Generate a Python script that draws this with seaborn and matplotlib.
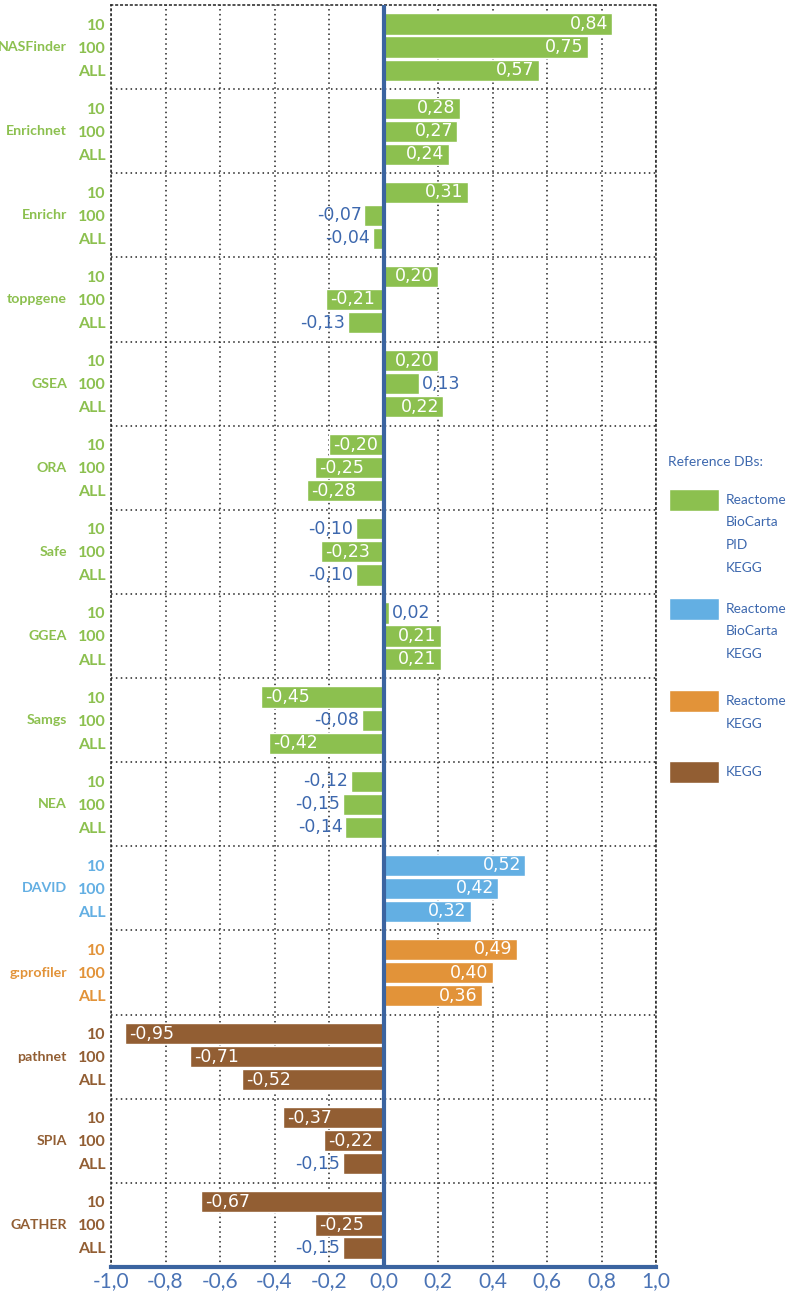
import numpy as np
import pandas as pd
import matplotlib.pyplot as plt
import matplotlib.transforms as mtransforms
from matplotlib.patches import Rectangle
import seaborn as sns

# dados
ferramentas = ["NASFinder", "Enrichnet", "Enrichr", "toppgene", "GSEA", "ORA", "Safe",
               "GGEA", "Samgs", "NEA", "DAVID", "g:profiler", "pathnet", "SPIA", "GATHER"]
subconjuntos = ["10", "100", "ALL"]
valores = [
    [0.84, 0.75, 0.57],
    [0.28, 0.27, 0.24],
    [0.31, -0.07, -0.04],
    [0.20, -0.21, -0.13],
    [0.20, 0.13, 0.22],
    [-0.20, -0.25, -0.28],
    [-0.10, -0.23, -0.10],
    [0.02, 0.21, 0.21],
    [-0.45, -0.08, -0.42],
    [-0.12, -0.15, -0.14],
    [0.52, 0.42, 0.32],
    [0.49, 0.40, 0.36],
    [-0.95, -0.71, -0.52],
    [-0.37, -0.22, -0.15],
    [-0.67, -0.25, -0.15],
]
grupo_db = ["A"] * 10 + ["B"] + ["C"] + ["D"] * 3
legenda_db = {
    "A": ["Reactome", "BioCarta", "PID", "KEGG"],
    "B": ["Reactome", "BioCarta", "KEGG"],
    "C": ["Reactome", "KEGG"],
    "D": ["KEGG"],
}
cores = {"A": "#8CC04F", "B": "#63AFE3", "C": "#E29339", "D": "#925E33"}
azul_txt = "#3D68AE"
azul_eixo = "#3B64A0"

# montagem do dataframe
passo = 3.65  # distancia entre grupos (em barras)
linhas = []
for g, nome in enumerate(ferramentas):
    for k, sub in enumerate(subconjuntos):
        linhas.append({"ferramenta": nome, "sub": sub, "valor": valores[g][k],
                       "db": grupo_db[g], "pos": g * passo + k})
df = pd.DataFrame(linhas)

sns.set_style("white")
plt.rcParams["font.family"] = ["DejaVu Sans"]
estreita = ["Lato", "DejaVu Sans"]

fig = plt.figure(figsize=(7.87, 13.03), dpi=100)
W, H = 787, 1303
ax = fig.add_axes([111 / W, 1 - 1267 / H, 545 / W, 1262 / H])

sns.barplot(data=df, x="valor", y="pos", hue="db", palette=cores, orient="y",
            native_scale=True, dodge=False, width=0.92, errorbar=None, saturation=1,
            edgecolor="white", linewidth=1.0, legend=False, ax=ax, zorder=3)

ax.set_xlim(-1.0, 1.0)
topo = 1 - passo / 2
base = (len(ferramentas) - 1) * passo + 1 + passo / 2
ax.set_ylim(base, topo)

# grade pontilhada
pont = (0, (1, 2.2))
ticks = np.round(np.arange(-1.0, 1.01, 0.2), 1) + 0.0
ax.set_xticks(ticks)
ax.set_xticklabels([f"{t + 0.0:.1f}".replace(".", ",") for t in ticks],
                   color="#4A73B5", fontsize=15, family=estreita)
for t in ticks:
    ax.axvline(t, color="#222222", lw=1.1, ls=pont, zorder=1)
for g in range(1, len(ferramentas)):
    ax.axhline(g * passo + 1 - passo / 2, color="#222222", lw=1.1, ls=pont, zorder=1)
for lado in ["top", "left", "right"]:
    ax.spines[lado].set_linestyle(pont)
    ax.spines[lado].set_color("#222222")
    ax.spines[lado].set_linewidth(1.1)
ax.spines["bottom"].set_color(azul_eixo)
ax.spines["bottom"].set_linewidth(3)
ax.axvline(0, color=azul_eixo, lw=3, zorder=5)
ax.tick_params(axis="x", length=0, pad=3)
ax.set_xlabel("")
ax.set_ylabel("")

# rotulos do eixo y
ax.set_yticks(df["pos"])
ax.set_yticklabels(df["sub"], fontsize=11.5, fontweight="bold", family=estreita)
ax.tick_params(axis="y", length=0, pad=4)
for rot, db in zip(ax.get_yticklabels(), df["db"]):
    rot.set_color(cores[db])

trans = mtransforms.blended_transform_factory(ax.transAxes, ax.transData)
for g, nome in enumerate(ferramentas):
    ax.text((67 - 111) / 545, g * passo + 1, nome, transform=trans, ha="right",
            va="center", fontsize=10.2, fontweight="bold", color=cores[grupo_db[g]],
            family=estreita)

# valores nas barras
for _, r in df.iterrows():
    v = r["valor"]
    txt = f"{v:.2f}".replace(".", ",")
    if abs(v) >= 0.195:
        ha = "right" if v > 0 else "left"
        ax.annotate(txt, (v, r["pos"]), xytext=(-3 if v > 0 else 3, 0),
                    textcoords="offset points", ha=ha, va="center",
                    color="white", fontsize=12.5, zorder=6)
    else:
        ha = "left" if v > 0 else "right"
        ax.annotate(txt, (v, r["pos"]), xytext=(2 if v > 0 else -2, 0),
                    textcoords="offset points", ha=ha, va="center",
                    color=azul_txt, fontsize=12.5, zorder=6)

# legenda manual
def fy(py):
    return 1 - py / H

fig.text(668 / W, fy(462), "Reference DBs:", color=azul_txt, fontsize=10,
         ha="left", va="center", family=estreita)
topos = {"A": 489, "B": 598, "C": 690, "D": 761}
for db, y0 in topos.items():
    fig.add_artist(Rectangle((669 / W, fy(y0 + 22)), 50 / W, 22 / H,
                             transform=fig.transFigure, facecolor=cores[db],
                             edgecolor="white", lw=1))
    for i, linha in enumerate(legenda_db[db]):
        fig.text(726 / W, fy(y0 + 11 + i * 22.5), linha, color=azul_txt,
                 fontsize=9.8, ha="left", va="center", family=estreita)

fig.savefig("out.png", dpi=100)
